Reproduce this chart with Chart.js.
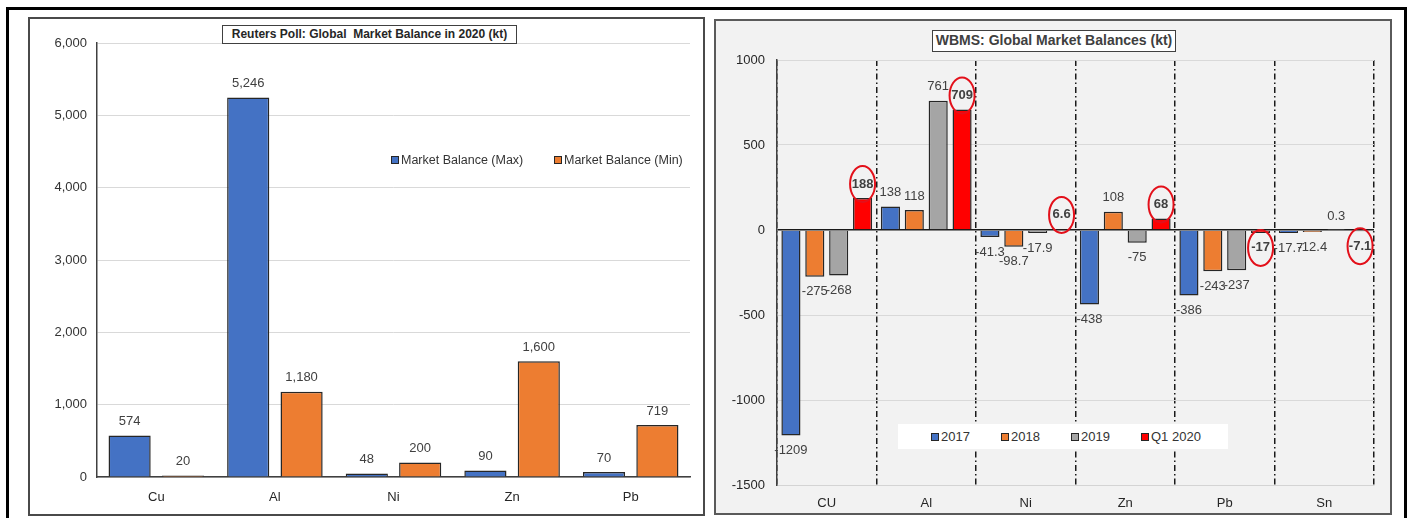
<!DOCTYPE html>
<html>
<head>
<meta charset="utf-8">
<script src="https://cdn.jsdelivr.net/npm/chart.js@4.4.1/dist/chart.umd.min.js"></script>
<style>
  html, body { margin: 0; padding: 0; background: #fff; }
  body { width: 1415px; height: 518px; position: relative; overflow: hidden;
         font-family: "Liberation Sans", Arial, sans-serif; }
  .frame { position: absolute; left: 6px; top: 7px; width: 1401px; height: 540px;
           border: 3px solid #000; box-sizing: border-box; }
  .panel { position: absolute; box-sizing: border-box; border: 2px solid #4a4a4a; }
  #panelPoll { left: 28px; top: 17px; width: 677px; height: 499px; background: #fff; }
  #panelWbms { left: 714px; top: 19px; width: 678px; height: 496px; background: #f2f2f2; border-color: #5a5a5a; }
  canvas { position: absolute; }
  #chartPoll { left: 30px; top: 19px; }
  #chartWbms { left: 716px; top: 21px; }
  .title { position: absolute; box-sizing: border-box; background: #fff; border: 1.5px solid #404040;
           font-weight: bold; text-align: center; white-space: pre; }
  #titlePoll { left: 222px; top: 25px; width: 295px; height: 19px; font-size: 12px; line-height: 16px; color: #262626; }
  #titleWbms { left: 932px; top: 30px; width: 244px; height: 22px; font-size: 14px; line-height: 19px; color: #404040; }
  .legend { position: absolute; display: flex; align-items: center; color: #333; }
  .legend .item { display: flex; align-items: center; white-space: nowrap; }
  .legend .box { width: 6px; height: 6px; border: 1px solid #262626; margin-right: 2px; }
  #legendPoll { left: 391px; top: 151px; height: 18px; font-size: 12.5px; }
  #legendPoll .item { width: 163px; }
  #legendWbms { left: 898px; top: 424px; width: 330px; height: 25px; background: #fff;
                padding-left: 33px; box-sizing: border-box; font-size: 13px; }
  #legendWbms .item { width: 70px; }
</style>
</head>
<body>
<div class="frame"></div>
<div class="panel" id="panelPoll"></div>
<div class="panel" id="panelWbms"></div>
<canvas id="chartPoll" width="673" height="495"></canvas>
<canvas id="chartWbms" width="674" height="492"></canvas>
<div class="title" id="titlePoll"></div>
<div class="title" id="titleWbms"></div>
<div class="legend" id="legendPoll"></div>
<div class="legend" id="legendWbms"></div>
<script>
// --- data: Reuters poll (left) ---
const pollTitle = 'Reuters Poll: Global  Market Balance in 2020 (kt)';
const pollMetals = ['Cu', 'Al', 'Ni', 'Zn', 'Pb'];
const pollSeries = ['Market Balance (Max)', 'Market Balance (Min)'];
const balanceMax = [574, 5246, 48, 90, 70];
const balanceMin = [20, 1180, 200, 1600, 719];
const pollAxis = { min: 0, max: 6000, step: 1000 };

// --- data: WBMS (right) ---
const wbmsTitle = 'WBMS: Global Market Balances (kt)';
const wbmsMetals = ['CU', 'Al', 'Ni', 'Zn', 'Pb', 'Sn'];
const wbmsSeries = ['2017', '2018', '2019', 'Q1 2020'];
const bal2017 = [-1209, 138, -41.3, -438, -386, -17.7];
const bal2018 = [-275, 118, -98.7, 108, -243, -12.4];
const bal2019 = [-268, 761, -17.9, -75, -237, 0.3];
const balQ12020 = [188, 709, 6.6, 68, -17, -7.1];
const wbmsAxis = { min: -1500, max: 1000, step: 500 };

const FONT = '"Liberation Sans", Arial, sans-serif';
const colors = { blue: '#4472C4', orange: '#ED7D31', gray: '#A5A5A5', red: '#FF0000', edge: '#262626' };

Chart.defaults.font.family = FONT;
Chart.defaults.font.size = 13;
Chart.defaults.color = '#333';
Chart.defaults.plugins.legend.display = false;
Chart.defaults.plugins.tooltip.enabled = false;
Chart.defaults.animation = false;

// value labels over / under each bar, optional red ring for one series
const barLabels = {
  id: 'barLabels',
  afterDatasetsDraw(chart, args, opts) {
    const ctx = chart.ctx;
    ctx.save();
    ctx.textAlign = 'center';
    ctx.textBaseline = 'middle';
    chart.data.datasets.forEach((ds, di) => {
      const ringed = opts.ring === di;
      chart.getDatasetMeta(di).data.forEach((bar, i) => {
        const v = ds.data[i];
        const y = v >= 0 ? bar.y - 14 : bar.y + 15;
        ctx.font = (ringed ? 'bold ' : '') + '13px ' + FONT;
        ctx.fillStyle = '#404040';
        ctx.fillText(opts.format(v), bar.x, y);
        if (ringed) {
          ctx.beginPath();
          ctx.ellipse(bar.x, y, 12.5, 18, 0, 0, Math.PI * 2);
          ctx.strokeStyle = '#E3101A';
          ctx.lineWidth = 2;
          ctx.stroke();
        }
      });
    });
    ctx.restore();
  }
};

function buildLegend(id, labels, fills) {
  const el = document.getElementById(id);
  labels.forEach((l, i) => {
    const it = document.createElement('div');
    it.className = 'item';
    it.innerHTML = '<span class="box" style="background:' + fills[i] + '"></span>' + l;
    el.appendChild(it);
  });
}

document.getElementById('titlePoll').textContent = pollTitle;
document.getElementById('titleWbms').textContent = wbmsTitle;

// --- left chart ---
new Chart(document.getElementById('chartPoll'), {
  type: 'bar',
  data: {
    labels: pollMetals,
    datasets: [
      { label: pollSeries[0], data: balanceMax, backgroundColor: colors.blue },
      { label: pollSeries[1], data: balanceMin, backgroundColor: colors.orange },
    ].map(d => Object.assign(d, { borderColor: colors.edge, borderWidth: 1.5, categoryPercentage: 0.9, barPercentage: 0.79 }))
  },
  options: {
    responsive: false,
    devicePixelRatio: 1,
    layout: { padding: { top: 24, right: 13, left: 0, bottom: 0 } },
    plugins: { barLabels: { format: v => v.toLocaleString('en-US') } },
    scales: {
      x: {
        grid: { display: false },
        border: { color: '#404040', width: 1.5 },
        ticks: { padding: 5, color: '#262626' },
        afterFit: s => { s.height = 37; }
      },
      y: {
        min: pollAxis.min, max: pollAxis.max,
        ticks: { stepSize: pollAxis.step, padding: 10, color: '#333', callback: v => v.toLocaleString('en-US') },
        grid: { color: '#d9d9d9', drawTicks: false },
        border: { color: '#404040', width: 1.5 },
        afterFit: s => { s.width = 67; }
      }
    }
  },
  plugins: [barLabels]
});
buildLegend('legendPoll', pollSeries, [colors.blue, colors.orange]);

// --- right chart ---
const wbmsFills = [colors.blue, colors.orange, colors.gray, colors.red];
new Chart(document.getElementById('chartWbms'), {
  type: 'bar',
  data: {
    labels: wbmsMetals,
    datasets: [bal2017, bal2018, bal2019, balQ12020].map((d, i) => ({
      label: wbmsSeries[i], data: d, backgroundColor: wbmsFills[i],
      borderColor: colors.edge, borderWidth: 1.5, categoryPercentage: 0.96, barPercentage: 0.8
    }))
  },
  options: {
    responsive: false,
    devicePixelRatio: 1,
    layout: { padding: { top: 39, right: 16, left: 0, bottom: 0 } },
    plugins: { barLabels: { format: v => String(v), ring: 3 } },
    scales: {
      x: {
        grid: { offset: true, color: '#1a1a1a', lineWidth: 1.5, drawTicks: false },
        border: { color: '#d4d4d4', width: 1, dash: [6, 3, 1.5, 3] },
        ticks: { padding: 11, color: '#262626' },
        afterFit: s => { s.height = 28; }
      },
      y: {
        min: wbmsAxis.min, max: wbmsAxis.max,
        ticks: { stepSize: wbmsAxis.step, padding: 12, color: '#262626', callback: v => String(v) },
        grid: {
          drawTicks: false,
          color: c => c.tick && c.tick.value === 0 ? '#1a1a1a' : '#d9d9d9',
          lineWidth: c => c.tick && c.tick.value === 0 ? 1.5 : 1
        },
        border: { color: '#404040', width: 1.5 },
        afterFit: s => { s.width = 61; }
      }
    }
  },
  plugins: [barLabels]
});
buildLegend('legendWbms', wbmsSeries, wbmsFills);
</script>
</body>
</html>
